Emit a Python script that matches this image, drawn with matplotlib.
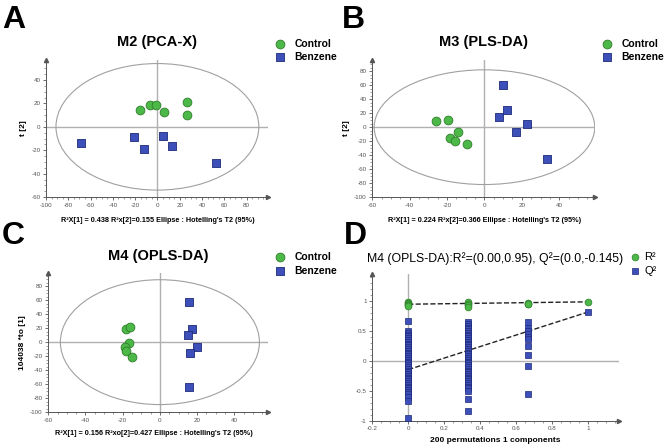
import matplotlib
matplotlib.use('Agg')
import matplotlib.pyplot as plt
from matplotlib.patches import Ellipse
from matplotlib.ticker import MultipleLocator, FuncFormatter

plt.rcParams['font.family'] = ['Liberation Sans Narrow', 'Liberation Sans', 'DejaVu Sans']

green = '#4cb848'
green_edge = '#2e7d2a'
blue = '#3d4fb8'
blue_edge = '#1f2a78'
grey = '#b0b0b0'

# Panel A: M2 (PCA-X)
a_ctrl_x = [-15.2, -6.6, -1.0, 6.3, 27.0, 27.0]
a_ctrl_y = [14.3, 19.0, 19.0, 12.3, 21.4, 10.0]
a_benz_x = [-68.5, -21.0, -12.0, 5.4, 13.5, 53.0]
a_benz_y = [-13.4, -9.0, -19.0, -8.0, -16.3, -31.0]

# Panel B: M3 (PLS-DA)
b_ctrl_x = [-26.0, -19.6, -14.3, -18.2, -15.9, -9.5]
b_ctrl_y = [9.0, 10.0, -6.6, -15.0, -20.0, -24.6]
b_benz_x = [10.0, 11.8, 7.7, 22.7, 16.8, 33.2]
b_benz_y = [60.6, 24.0, 14.7, 5.0, -6.6, -45.5]

# Panel C: M4 (OPLS-DA)
c_ctrl_x = [-18.3, -16.1, -16.7, -18.8, -18.2, -15.2]
c_ctrl_y = [19.4, 21.8, -0.5, -6.6, -13.3, -20.9]
c_benz_x = [15.8, 17.2, 14.9, 19.9, 16.0, 15.4]
c_benz_y = [56.9, 18.5, 10.4, -6.2, -15.6, -64.5]

# Panel D: permutation test
d_r2_x = [0, 0, 0, 0, 0, 0.333, 0.333, 0.333, 0.333, 0.667, 0.667, 0.667, 1.0]
d_r2_y = [0.99, 0.97, 0.95, 0.93, 0.92, 0.99, 0.96, 0.94, 0.90, 0.97, 0.96, 0.95, 0.99]
d_q2_col0 = [0.67, 0.50, 0.47, 0.44, 0.41, 0.38, 0.35, 0.32, 0.29, 0.26, 0.23, 0.20,
             0.17, 0.14, 0.11, 0.08, 0.05, 0.02, -0.01, -0.04, -0.07, -0.10, -0.13,
             -0.16, -0.19, -0.22, -0.25, -0.28, -0.31, -0.34, -0.37, -0.40, -0.43,
             -0.46, -0.49, -0.52, -0.55, -0.60, -0.67, -0.95]
d_q2_col1 = [0.65, 0.62, 0.59, 0.56, 0.53, 0.50, 0.47, 0.44, 0.41, 0.38, 0.35, 0.32,
             0.29, 0.26, 0.23, 0.20, 0.17, 0.14, 0.11, 0.08, 0.05, 0.02, -0.01,
             -0.04, -0.07, -0.10, -0.13, -0.16, -0.19, -0.22, -0.25, -0.28, -0.31,
             -0.34, -0.37, -0.40, -0.43, -0.46, -0.50, -0.63, -0.84]
d_q2_col2 = [0.65, 0.55, 0.50, 0.45, 0.40, 0.37, 0.25, 0.10, -0.08, -0.55]
d_q2_col3 = [0.82]
d_r2_line_x = [0, 1.0]
d_r2_line_y = [0.95, 0.99]
d_q2_line_x = [0, 1.0]
d_q2_line_y = [-0.145, 0.82]

W, H = 666, 448
fig = plt.figure(figsize=(6.66, 4.48), dpi=100)


def px(x, y):
    return x / W, 1 - y / H


def style_axes(ax, xlim, ylim, xmaj, ymaj, xmin, ymin):
    ax.set_xlim(*xlim)
    ax.set_ylim(*ylim)
    for s in ['top', 'right']:
        ax.spines[s].set_visible(False)
    for s in ['left', 'bottom']:
        ax.spines[s].set_color('#555555')
        ax.spines[s].set_linewidth(0.7)
    ax.xaxis.set_major_locator(MultipleLocator(xmaj))
    ax.yaxis.set_major_locator(MultipleLocator(ymaj))
    ax.xaxis.set_minor_locator(MultipleLocator(xmin))
    ax.yaxis.set_minor_locator(MultipleLocator(ymin))
    fmt = FuncFormatter(lambda v, p: '%g' % round(v, 3))
    ax.xaxis.set_major_formatter(fmt)
    ax.yaxis.set_major_formatter(fmt)
    ax.tick_params(which='major', length=2.5, width=0.6, color='#555555',
                   labelsize=4.5, labelcolor='#555555', pad=1.5)
    ax.tick_params(which='minor', length=1.2, width=0.5, color='#777777')
    ax.axhline(0, color=grey, lw=1.0, zorder=1)
    ax.axvline(0, color=grey, lw=1.0, zorder=1)
    ax.plot(1, 0, '>', transform=ax.transAxes, color='#555555', ms=3, clip_on=False)
    ax.plot(0, 1, '^', transform=ax.transAxes, color='#555555', ms=3, clip_on=False)
    ax.patch.set_alpha(0)


def panel_letter(letter, x, y):
    fig.text(*px(x, y), letter, fontsize=23, fontweight='bold',
             family=['Liberation Sans', 'DejaVu Sans'], va='center', ha='left')


def score_panel(rect, title, ctrl_x, ctrl_y, benz_x, benz_y, ell, lims,
                ticks, ylabel, foot, foot_xy):
    ax = fig.add_axes(rect)
    style_axes(ax, lims[0], lims[1], ticks[0], ticks[1], ticks[2], ticks[3])
    ax.add_patch(Ellipse((0, 0), 2 * ell[0], 2 * ell[1], fill=False,
                         edgecolor='#a0a0a0', lw=0.8, zorder=1))
    ax.scatter(ctrl_x, ctrl_y, s=40, marker='o', color=green, edgecolors=green_edge,
               linewidths=0.6, zorder=3)
    ax.scatter(benz_x, benz_y, s=34, marker='s', color=blue, edgecolors=blue_edge,
               linewidths=0.6, zorder=3)
    ax.set_ylabel(ylabel, fontsize=6, fontweight='bold', labelpad=3)
    ax.set_title(title, fontsize=10.5, fontweight='bold', pad=10)
    # legend
    ax.scatter([1.055], [1.12], s=40, marker='o', color=green, edgecolors=green_edge,
               linewidths=0.6, transform=ax.transAxes, clip_on=False)
    ax.scatter([1.055], [1.02], s=34, marker='s', color=blue, edgecolors=blue_edge,
               linewidths=0.6, transform=ax.transAxes, clip_on=False)
    ax.text(1.12, 1.12, 'Control', transform=ax.transAxes, fontsize=7.5,
            fontweight='bold', va='center')
    ax.text(1.12, 1.02, 'Benzene', transform=ax.transAxes, fontsize=7.5,
            fontweight='bold', va='center')
    fig.text(*px(*foot_xy), foot, fontsize=5.2, fontweight='bold',
             ha='center', va='center')
    return ax


score_panel([0.069, 0.560, 0.333, 0.306], 'M2 (PCA-X)',
            a_ctrl_x, a_ctrl_y, a_benz_x, a_benz_y, (91, 54),
            ((-100, 99), (-60, 57)), (20, 20, 5, 5), 't [2]',
            "R²X[1] = 0.438 R²x[2]=0.155 Ellipse : Hotelling's T2 (95%)",
            (158, 221))
score_panel([0.559, 0.560, 0.334, 0.306], 'M3 (PLS-DA)',
            b_ctrl_x, b_ctrl_y, b_benz_x, b_benz_y, (59, 82),
            ((-60, 59), (-100, 96)), (20, 20, 5, 5), 't [2]',
            "R²X[1] = 0.224 R²x[2]=0.366 Ellipse : Hotelling's T2 (95%)",
            (485, 221))
score_panel([0.0725, 0.0797, 0.3296, 0.310], 'M4 (OPLS-DA)',
            c_ctrl_x, c_ctrl_y, c_benz_x, c_benz_y, (53.5, 89),
            ((-60, 58), (-100, 98)), (20, 20, 5, 5), '104038 *to [1]',
            "R²X[1] = 0.156 R²xo[2]=0.427 Ellipse : Hotelling's T2 (95%)",
            (154, 433))

# Panel D
axd = fig.add_axes([0.559, 0.061, 0.370, 0.3266])
style_axes(axd, (-0.2, 1.17), (-1, 1.45), 0.2, 0.5, 0.05, 0.1)
axd.plot(d_r2_line_x, d_r2_line_y, '--', color='#222222', lw=1.0, zorder=2)
axd.plot(d_q2_line_x, d_q2_line_y, '--', color='#222222', lw=1.0, zorder=2)
q2_x = ([0] * len(d_q2_col0) + [0.333] * len(d_q2_col1)
        + [0.667] * len(d_q2_col2) + [1.0] * len(d_q2_col3))
q2_y = d_q2_col0 + d_q2_col1 + d_q2_col2 + d_q2_col3
axd.scatter(q2_x, q2_y, s=14, marker='s', color=blue, edgecolors=blue_edge,
            linewidths=0.5, zorder=3)
axd.scatter(d_r2_x, d_r2_y, s=24, marker='o', color=green, edgecolors=green_edge,
            linewidths=0.5, zorder=4)
axd.set_title('M4 (OPLS-DA):R²=(0.00,0.95), Q²=(0.0,-0.145)', fontsize=8.8,
              pad=9)
axd.set_xlabel('200 permutations 1 components', fontsize=6, fontweight='bold',
               labelpad=4)
axd.scatter([1.065], [1.12], s=24, marker='o', color=green, edgecolors=green_edge,
            linewidths=0.5, transform=axd.transAxes, clip_on=False)
axd.scatter([1.065], [1.02], s=14, marker='s', color=blue, edgecolors=blue_edge,
            linewidths=0.5, transform=axd.transAxes, clip_on=False)
axd.text(1.105, 1.12, 'R²', transform=axd.transAxes, fontsize=8, va='center')
axd.text(1.105, 1.02, 'Q²', transform=axd.transAxes, fontsize=8, va='center')

panel_letter('A', 2, 20)
panel_letter('B', 342, 20)
panel_letter('C', 2, 236)
panel_letter('D', 344, 236)

fig.savefig('out.png', dpi=100)
